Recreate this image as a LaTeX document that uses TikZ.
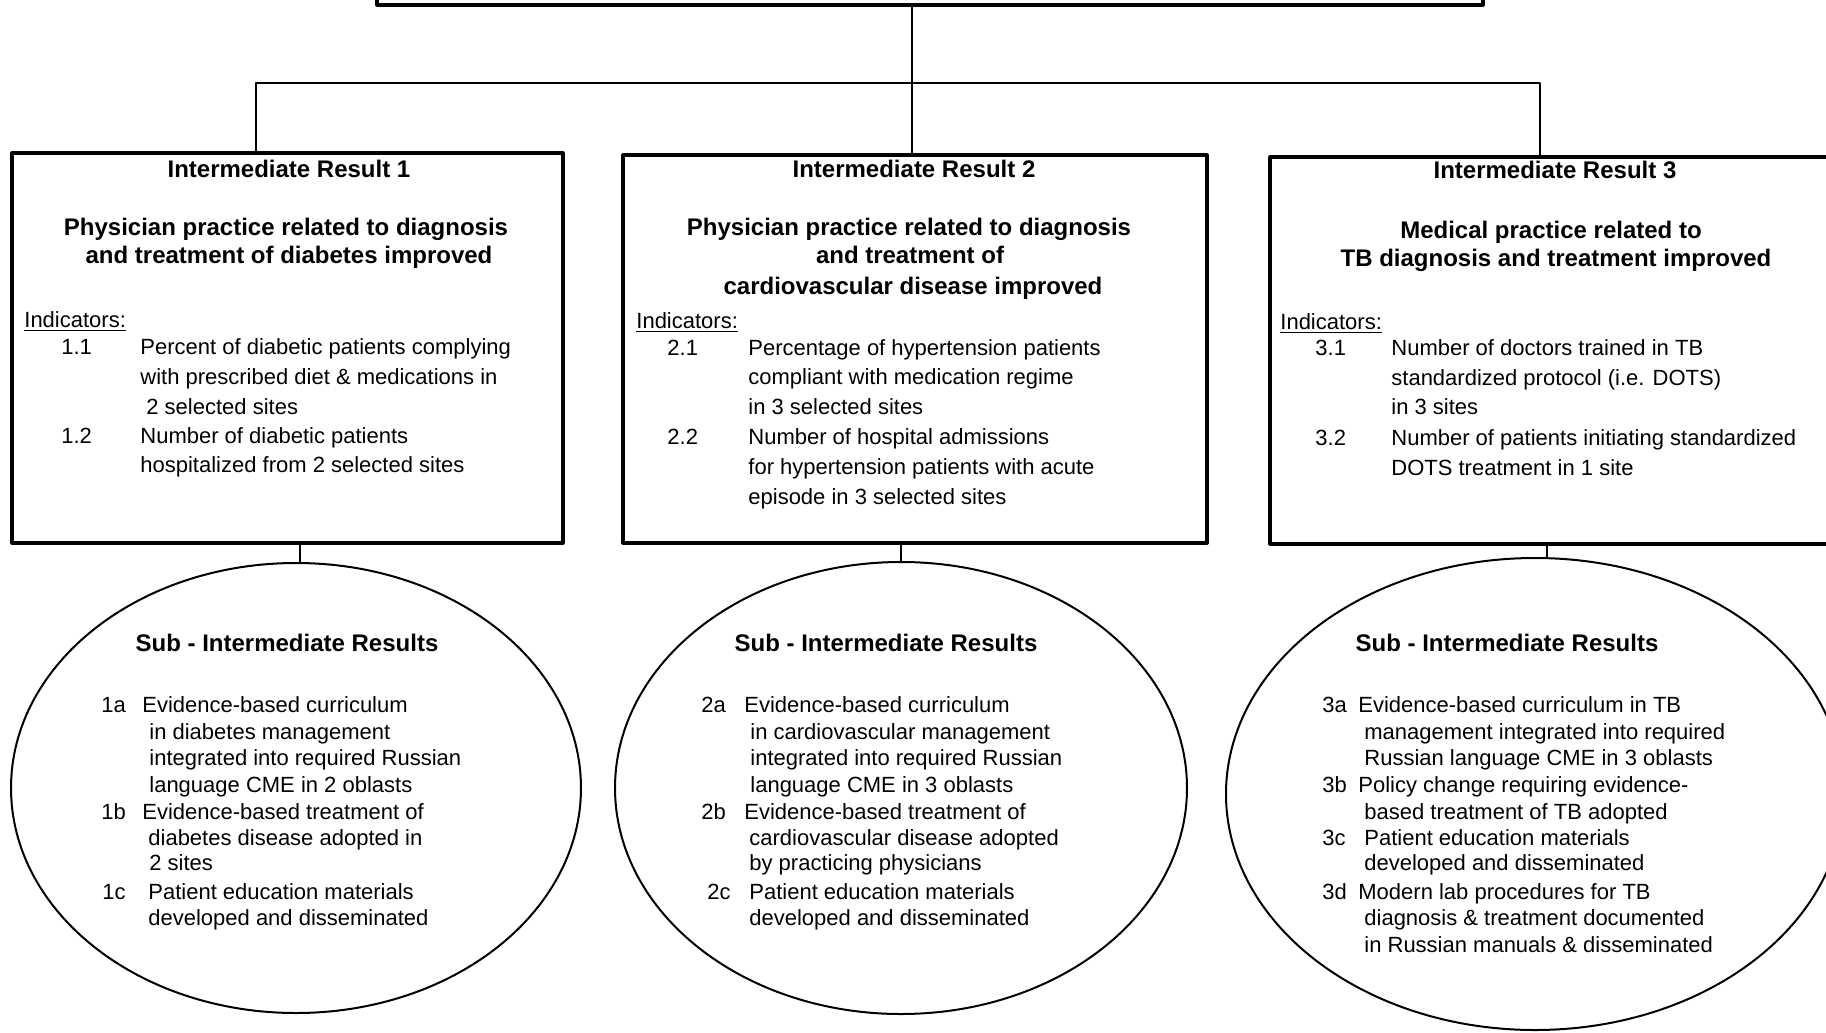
\documentclass[tikz,border=0pt]{standalone}
\usepackage{fontspec}
\setmainfont{Liberation Sans}
\usetikzlibrary{shapes.geometric}

\tikzset{
  resbox/.style={draw,line width=1.6pt,inner sep=0pt,outer sep=0pt},
  subell/.style={draw,ellipse,line width=1pt,inner sep=0pt,outer sep=0pt},
  link/.style={line width=0.7pt},
  hd/.style={font=\bfseries\fontsize{12}{14}\selectfont,inner sep=0pt,anchor=mid},
  tx/.style={font=\fontsize{11}{13}\selectfont,inner sep=0pt,anchor=mid west,yshift=-1pt}
}

\begin{document}
\begin{tikzpicture}[x=0.5pt,y=-0.5pt,line cap=round,line join=round]
\fill[white] (0,0) rectangle (1826,1033);
\useasboundingbox (0,0) rectangle (1826,1033);

% boxes (top one runs off the page)
\node[resbox,minimum width=553pt,minimum height=62.5pt] (goal) at (930,-57.5) {};
\node[resbox,minimum width=275.5pt,minimum height=195pt] (ir1) at (287.5,348) {};
\node[resbox,minimum width=292pt,minimum height=194pt] (ir2) at (915,349) {};
\node[resbox,minimum width=295pt,minimum height=193.5pt] (ir3) at (1565,350.5) {};

% sub-result ellipses
\node[subell,minimum width=285pt,minimum height=225pt] (sub1) at (296,788) {};
\node[subell,minimum width=286pt,minimum height=226pt] (sub2) at (901,788) {};
\node[subell,minimum width=309pt,minimum height=236pt] (sub3) at (1535,794) {};

\coordinate (trunk) at (912,83);
\coordinate (brL) at (256,83);
\coordinate (brR) at (1540,83);
\coordinate (d1) at (300,0);
\coordinate (d3) at (1547,0);

\draw[link] (goal.south -| trunk) -- (ir2.north -| trunk);
\draw[link] (ir1.north -| brL) |- (brR) -- (ir3.north -| brR);
\draw[link] (ir1.south -| d1) -- (sub1.north -| d1);
\draw[link] (ir2.south -| sub2.north) -- (sub2.north);
\draw[link] (ir3.south -| d3) -- (sub3.north -| d3);

% result 1
\node[hd] (t1) at (289,172) {Intermediate Result 1};
\node[hd] (g1a) at (286,230) {Physician practice related to diagnosis};
\node[hd] (g1b) at (289,258) {and treatment of diabetes improved};
\node[tx] (ind1) at (24,320) {\underline{Indicators:}};
\node[tx] (n11) at (61,347) {1.1};
\node[tx] (n12) at (61,436) {1.2};
\foreach \xx/\yy/\words [count=\i] in {
  140/347/Percent of diabetic patients complying,
  140/377/with prescribed diet \& medications in,
  146/407/2 selected sites,
  140/436/Number of diabetic patients,
  140/465/hospitalized from 2 selected sites}
  \node[tx] (r1l\i) at (\xx,\yy) {\words};

% result 2
\node[hd] (t2) at (914,172) {Intermediate Result 2};
\node[hd] (g2a) at (909,230) {Physician practice related to diagnosis};
\node[hd] (g2b) at (910,258) {and treatment of};
\node[hd] (g2c) at (913,289) {cardiovascular disease improved};
\node[tx] (ind2) at (636,321) {\underline{Indicators:}};
\node[tx] (n21) at (667,348) {2.1};
\node[tx] (n22) at (667,437) {2.2};
\foreach \xx/\yy/\words [count=\i] in {
  748/348/Percentage of hypertension patients,
  748/377/compliant with medication regime,
  748/407/in 3 selected sites,
  748/437/Number of hospital admissions,
  748/467/for hypertension patients with acute,
  748/497/episode in 3 selected sites}
  \node[tx] (r2l\i) at (\xx,\yy) {\words};

% result 3
\node[hd] (t3) at (1555,173) {Intermediate Result 3};
\node[hd] (g3a) at (1551,233) {Medical practice related to};
\node[hd] (g3b) at (1556,261) {TB diagnosis and treatment improved};
\node[tx] (ind3) at (1280,322) {\underline{Indicators:}};
\node[tx] (n31) at (1315,348) {3.1};
\node[tx] (n32) at (1315,438) {3.2};
\foreach \xx/\yy/\words [count=\i] in {
  1391/348/Number of doctors trained in TB,
  1391/378/standardized protocol (i.e. DOTS),
  1391/407/in 3 sites,
  1391/438/Number of patients initiating standardized,
  1391/468/DOTS treatment in 1 site}
  \node[tx] (r3l\i) at (\xx,\yy) {\words};

% sub-results 1
\node[hd] (s1) at (287,646) {Sub - Intermediate Results};
\node[tx] (k1a) at (101,705) {1a};
\node[tx] (k1b) at (101,812) {1b};
\node[tx] (k1c) at (102,892) {1c};
\foreach \xx/\yy/\words [count=\i] in {
  142/705/Evidence-based curriculum,
  149/732/in diabetes management,
  149/758/integrated into required Russian,
  149/785/language CME in 2 oblasts,
  142/812/Evidence-based treatment of,
  148/838/diabetes disease adopted in,
  149/863/2 sites,
  148/892/Patient education materials,
  148/918/developed and disseminated}
  \node[tx] (e1l\i) at (\xx,\yy) {\words};

% sub-results 2
\node[hd] (s2) at (886,646) {Sub - Intermediate Results};
\node[tx] (k2a) at (701,705) {2a};
\node[tx] (k2b) at (701,812) {2b};
\node[tx] (k2c) at (707,892) {2c};
\foreach \xx/\yy/\words [count=\i] in {
  744/705/Evidence-based curriculum,
  750/732/in cardiovascular management,
  750/758/integrated into required Russian,
  750/785/language CME in 3 oblasts,
  744/812/Evidence-based treatment of,
  749/838/cardiovascular disease adopted,
  749/863/by practicing physicians,
  749/892/Patient education materials,
  749/918/developed and disseminated}
  \node[tx] (e2l\i) at (\xx,\yy) {\words};

% sub-results 3
\node[hd] (s3) at (1507,646) {Sub - Intermediate Results};
\node[tx] (k3a) at (1322,705) {3a};
\node[tx] (k3b) at (1322,785) {3b};
\node[tx] (k3c) at (1322,838) {3c};
\node[tx] (k3d) at (1322,892) {3d};
\foreach \xx/\yy/\words [count=\i] in {
  1358/705/Evidence-based curriculum in TB,
  1364/732/management integrated into required,
  1364/758/Russian language CME in 3 oblasts,
  1358/785/Policy change requiring evidence-,
  1364/812/based treatment of TB adopted,
  1364/838/Patient education materials,
  1364/863/developed and disseminated,
  1358/892/Modern lab procedures for TB,
  1364/918/diagnosis \& treatment documented,
  1364/945/in Russian manuals \& disseminated}
  \node[tx] (e3l\i) at (\xx,\yy) {\words};
\end{tikzpicture}
\end{document}
